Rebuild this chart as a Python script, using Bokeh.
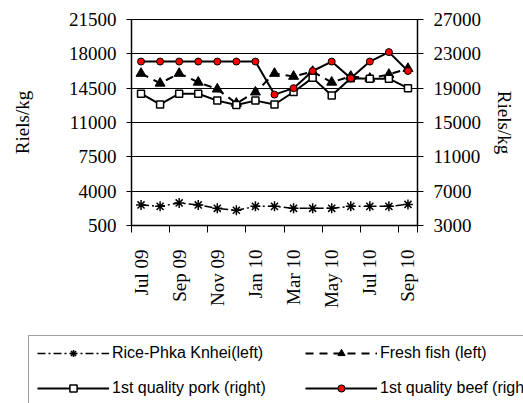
import math
from bokeh.plotting import figure
from bokeh.models import (Range1d, LinearAxis, FixedTicker, Legend, LegendItem)
from bokeh.layouts import column
from bokeh.embed import file_html
from bokeh.resources import INLINE

months = ["Jul 09", "Aug 09", "Sep 09", "Oct 09", "Nov 09", "Dec 09", "Jan 10",
          "Feb 10", "Mar 10", "Apr 10", "May 10", "Jun 10", "Jul 10", "Aug 10", "Sep 10"]
rice = [2600, 2450, 2800, 2600, 2250, 2050, 2450, 2450, 2250, 2250, 2250, 2450, 2450, 2450, 2650]
fish = [16000, 15000, 16000, 15100, 14400, 12950, 14100, 16000, 15700, 16200, 15100, 15700, 15500, 15900, 16500]
pork = [18350, 17100, 18350, 18350, 17550, 17050, 17550, 17100, 18550, 20200, 18150, 20150, 20100, 20100, 19000]
beef = [22100, 22100, 22100, 22100, 22100, 22100, 22100, 18250, 19000, 21000, 22100, 20150, 22100, 23200, 21000]

left_ticks = [500, 4000, 7500, 11000, 14500, 18000, 21500]
right_ticks = [3000, 7000, 11000, 15000, 19000, 23000, 27000]
label_every = 2

x = list(range(len(months)))

SERIF = "Liberation Serif"
SANS = "Liberation Sans"

p = figure(width=523, height=330, output_backend="svg", toolbar_location=None,
           x_range=Range1d(-0.5, len(months) - 0.5),
           y_range=Range1d(left_ticks[0], left_ticks[-1]),
           min_border_left=131, min_border_right=106, min_border_top=19, min_border_bottom=105,
           frame_width=286, frame_height=206, frame_align=False)
p.extra_y_ranges = {"right": Range1d(right_ticks[0], right_ticks[-1])}
p.outline_line_color = "black"
p.outline_line_width = 1
p.background_fill_color = "white"
p.border_fill_color = "white"

# x axis
xa = p.xaxis[0]
major = [i for i in x if i % label_every == 0]
minor = [i - 0.5 for i in x if i % label_every == 0] + [len(months) - 0.5]
xa.ticker = FixedTicker(ticks=major, minor_ticks=minor)
xa.major_label_overrides = {i: months[i] for i in major}
xa.major_label_orientation = math.pi / 2
xa.major_tick_out = 0
xa.major_tick_in = 0
xa.minor_tick_out = 7
xa.minor_tick_in = 0
xa.minor_tick_line_color = "black"
xa.major_label_standoff = 17
xa.major_label_text_font = SERIF
xa.major_label_text_font_size = "19px"
xa.major_label_text_color = "black"
xa.axis_line_color = "black"
xa.axis_line_width = 1.5

# left axis
ya = p.yaxis[0]
ya.ticker = FixedTicker(ticks=left_ticks)
ya.minor_tick_line_color = None
ya.major_tick_out = 5
ya.major_tick_in = 0
ya.major_label_standoff = 10
ya.major_label_text_font = SERIF
ya.major_label_text_font_size = "19px"
ya.major_label_text_color = "black"
ya.axis_label = "Riels/kg"
ya.axis_label_text_font = SERIF
ya.axis_label_text_font_size = "19px"
ya.axis_label_text_font_style = "normal"
ya.axis_label_text_color = "black"
ya.axis_label_standoff = 33
ya.axis_line_color = "black"
ya.axis_line_width = 1.5

# right axis
ra = LinearAxis(y_range_name="right", ticker=FixedTicker(ticks=right_ticks))
ra.minor_tick_line_color = None
ra.major_tick_out = 6
ra.major_tick_in = 0
ra.major_label_standoff = 10
ra.major_label_text_font = SERIF
ra.major_label_text_font_size = "19px"
ra.major_label_text_color = "black"
ra.axis_label = "Riels/kg"
ra.axis_label_text_font = SERIF
ra.axis_label_text_font_size = "19px"
ra.axis_label_text_font_style = "normal"
ra.axis_label_text_color = "black"
ra.axis_label_standoff = 10
ra.axis_line_color = "black"
ra.axis_line_width = 1.5
p.add_layout(ra, "right")

p.xgrid.grid_line_color = None
p.ygrid.grid_line_color = "black"
p.ygrid.grid_line_width = 1

# series styles
styles = {
    "rice": dict(line=dict(line_color="black", line_width=1.5, line_dash="8 3 2 3"),
                 mark=dict(marker="asterisk", size=10, line_color="black", line_width=1.5)),
    "fish": dict(line=dict(line_color="black", line_width=2, line_dash="8 6"),
                 mark=dict(marker="triangle", size=10, fill_color="black", line_color="black")),
    "pork": dict(line=dict(line_color="black", line_width=2),
                 mark=dict(marker="square", size=7, fill_color="white", line_color="black", line_width=1.5)),
    "beef": dict(line=dict(line_color="black", line_width=2),
                 mark=dict(marker="circle", size=7, fill_color="red", line_color="black", line_width=1)),
}
series = {"rice": (rice, "default"), "fish": (fish, "default"),
          "pork": (pork, "right"), "beef": (beef, "right")}

for key, (vals, rng) in series.items():
    p.line(x, vals, y_range_name=rng, **styles[key]["line"])
    p.scatter(x, vals, y_range_name=rng, **styles[key]["mark"])

# legend panel: separate canvas whose frame spans the full width
p2 = figure(width=523, height=73, output_backend="svg", toolbar_location=None,
            x_range=Range1d(-0.5, len(months) - 0.5), y_range=Range1d(-3, -2),
            x_axis_location=None, y_axis_location=None,
            min_border=0, min_border_left=0, min_border_right=0,
            min_border_top=0, min_border_bottom=0, frame_align=False)
p2.grid.visible = False
p2.outline_line_color = None
p2.background_fill_color = "white"
p2.border_fill_color = "white"

def legend_renderers(key):
    vals = series[key][0]
    ln = p2.line(x, vals, **styles[key]["line"])
    mk = p2.scatter(x, vals, **styles[key]["mark"])
    return [ln, mk]

legend = Legend(items=[
    LegendItem(label="Rice-Phka Knhei(left)", renderers=legend_renderers("rice")),
    LegendItem(label="1st quality pork (right)", renderers=legend_renderers("pork")),
    LegendItem(label="Fresh fish (left)", renderers=legend_renderers("fish")),
    LegendItem(label="1st quality beef (right)", renderers=legend_renderers("beef")),
], location=(28, -3), orientation="vertical", ncols=2)
legend.padding = 8
legend.margin = 0
legend.spacing = 17
legend.glyph_width = 72
legend.glyph_height = 18
legend.label_height = 18
legend.label_width = 176
legend.label_standoff = 3
legend.label_text_font = SANS
legend.label_text_font_size = "16px"
legend.label_text_color = "black"
legend.border_line_color = "#444444"
legend.border_line_width = 1
legend.background_fill_color = "white"
legend.background_fill_alpha = 1
p2.add_layout(legend, "center")

layout = column(p, p2, spacing=0)
open("out.html", "w").write(file_html(layout, INLINE))
